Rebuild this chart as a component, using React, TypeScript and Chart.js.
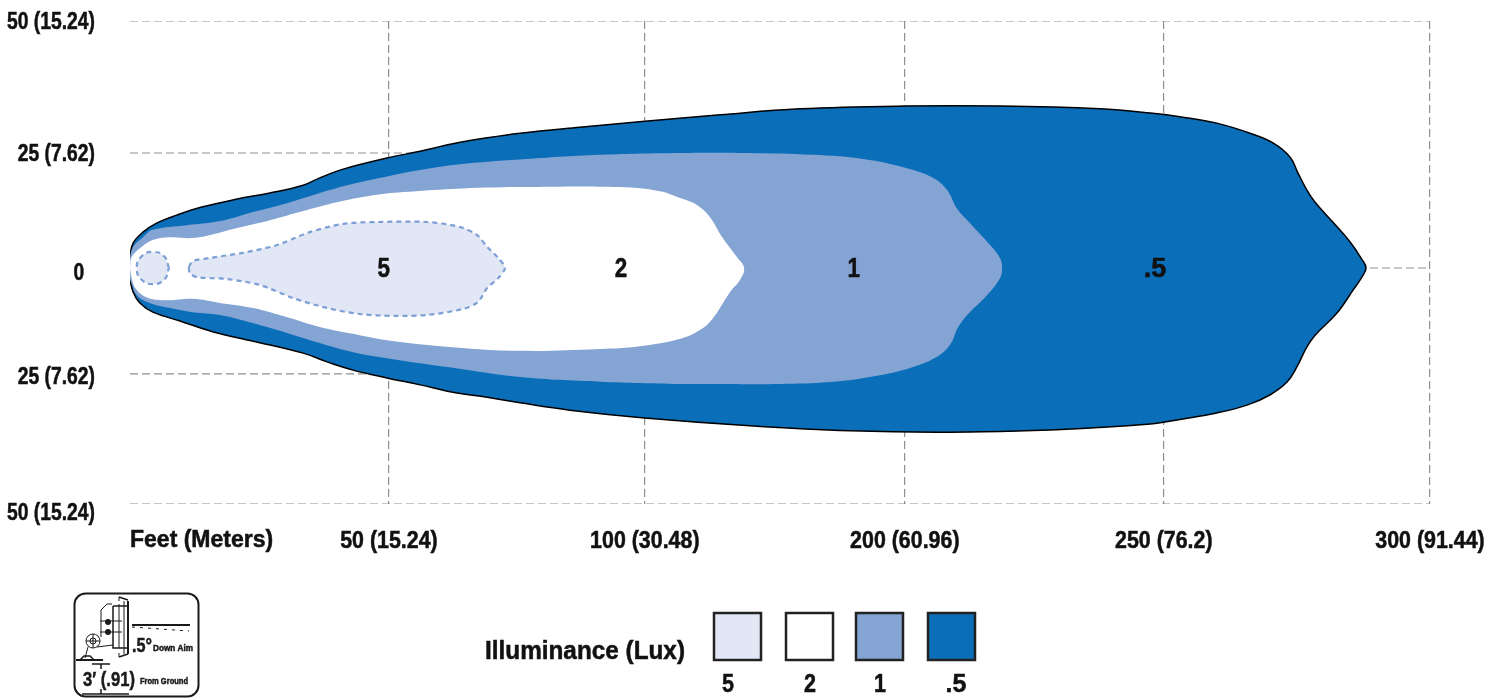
import React, { useEffect, useRef } from "react";
import { Chart, registerables } from "chart.js";

Chart.register(...registerables);

const FONT = '"Liberation Sans", sans-serif';
const INK = "#111111";
const GRID = "#8f8f8f";
const DARK = "#0b6eb8";
const MID = "#84a4d4";
const PALE = "#e1e7f5";
const EDGE = "#7d9fd6";

// Axis units: x in grid units (50 per printed step), y in feet-like units off the beam axis.
const xTickValues = [49.8, 99, 149, 198.8, 250];
const xTickLabels = ["50 (15.24)", "100 (30.48)", "200 (60.96)", "250 (76.2)", "300 (91.44)"];
const yTickValues = [53.4, 24.6, -1.3, -23.9, -53.4];
const yTickLabels = ["50 (15.24)", "25 (7.62)", "0", "25 (7.62)", "50 (15.24)"];
const xAxisTitle = "Feet (Meters)";

const halfLinesY = [53.7, -51.3];
const quarterLinesY = [25, -23];
const axisLineStart = 220;

const outerX = [0, 0, 0.6, 2.5, 5.2, 9, 14, 20.6, 26.9, 33.3, 36.5, 41, 49.4, 55.8, 62.1, 68.7, 75, 86.5, 99, 113.5, 128.8, 149, 167.3, 186.5, 196.2, 202.5, 209, 215.4, 219.8, 223.1, 224.6, 226.3, 227.9, 231.3, 234.6, 236.9, 237.7, 236.9, 235.2, 232.1, 227.9, 226.3, 224.4, 222.5, 219.2, 214.8, 209, 202.5, 196.2, 176.9, 157.7, 138.5, 119.2, 99, 84.6, 75, 68.7, 62.1, 55.8, 49.4, 42.9, 37.9, 33.3, 23.7, 16, 9.6, 4.4, 1.9, 0.6, 0, 0];
const outerY = [0, 2.2, 5.4, 7.8, 9.8, 11.5, 13.3, 15, 16.3, 18, 19.6, 21.5, 23.9, 25.4, 27, 28.3, 29.3, 30.6, 31.9, 33.3, 34.6, 35.2, 35.2, 34.6, 33.7, 32.8, 31.5, 29.3, 27.2, 24.1, 20.7, 17, 14.3, 10, 5.7, 1.9, 0, -2, -4.8, -9.8, -14.6, -17.2, -21.5, -24.8, -27.6, -29.8, -31.5, -32.8, -33.9, -35.2, -35.7, -35.4, -34.3, -32.6, -30.9, -29.3, -28.1, -27, -25.4, -23.9, -22.2, -20.4, -18.5, -15.9, -13.9, -11.5, -9.6, -7.6, -5.2, -2.2, 0];

const oneLuxX = [0, 0, 0.6, 2.5, 4.4, 11, 17.3, 23.7, 30.2, 36.5, 42.9, 49.4, 55.8, 62.1, 68.7, 75, 90.4, 105.8, 118.7, 131.3, 141, 149.4, 154.4, 157.1, 159, 161.5, 165.4, 167.3, 167.7, 167.3, 164.8, 161, 159.2, 157.7, 155.2, 150.6, 144.2, 134.6, 125, 112.1, 105.8, 90.4, 75, 62.1, 49.4, 42.9, 36.5, 30.2, 23.7, 17.3, 12.1, 7.7, 3.8, 1.3, 0.4, 0, 0];
const oneLuxY = [0, 2.2, 4.6, 6.7, 8.3, 9.3, 10.2, 12.2, 14.1, 16.3, 18.3, 19.9, 21.3, 22.4, 23.1, 23.6, 24.6, 25, 25, 24.6, 23.7, 21.7, 19.6, 17, 13, 9.8, 5, 2.2, 0, -2.2, -5.9, -10.2, -13, -16.7, -19.3, -21.5, -23.3, -24.8, -25.2, -25.2, -25.2, -24.7, -23.7, -21.7, -19.6, -18.3, -16.3, -14.1, -12, -10.2, -9.6, -8.7, -7.6, -5.9, -3.7, -2.2, 0];

const twoLuxX = [0, 0.2, 1.9, 4.4, 7.7, 11.9, 14.8, 20.6, 26.9, 33.3, 39.8, 46.2, 52.5, 62.1, 75, 94.2, 101.9, 105.8, 109, 111.5, 114, 116.7, 118.1, 117.3, 115.4, 112.1, 109.6, 105.8, 98.1, 90.4, 75, 62.1, 49.4, 42.9, 36.5, 30.2, 23.7, 17.3, 12.1, 7.1, 3.5, 1.3, 0.4, 0];
const twoLuxY = [0, 2.2, 4.3, 6.1, 6.7, 6.5, 7, 8.7, 10.4, 12.4, 14.3, 15.7, 16.5, 17.2, 17.6, 17.6, 16.7, 15.2, 13.7, 11.1, 6.5, 2.4, 0, -2.6, -5.2, -10.9, -13.5, -15.4, -17, -17.6, -18, -17.2, -15.7, -14.3, -12.8, -10.7, -8.7, -7.6, -6.7, -7, -6.5, -4.8, -2.6, 0];

const fiveLuxX = [11.3, 12.1, 15.4, 21.7, 28.3, 34.6, 41, 47.5, 57.1, 63.5, 66.7, 68.7, 70.8, 72.1, 70.8, 68.7, 66.9, 64, 57.1, 50.6, 44.2, 37.9, 31.3, 25, 18.7, 12.9, 11.5, 11.3];
const fiveLuxY = [0.2, 1.5, 2.2, 3.3, 5, 7.8, 9.6, 10, 10, 8.9, 7.2, 4.6, 2.2, 0, -2.2, -4.3, -7.4, -8.9, -10.2, -10.4, -10, -8.7, -6.5, -3.7, -2.4, -2, -1.1, 0.2];

const hotSpotX = [7.5, 6.6, 4.4, 2.2, 1.3, 2.2, 4.4, 6.6, 7.5];
const hotSpotY = [0, 2.5, 3.5, 2.5, 0, -2.5, -3.5, -2.5, 0];

const zoneLabels = ["5", "2", "1", ".5"];
const zoneLabelX = [48.8, 94.4, 139.2, 197.1];

const legendTitle = "Illuminance (Lux)";
const legendLabels = ["5", "2", "1", ".5"];
const legendColors = [PALE, "#ffffff", MID, DARK];

const zip = (xs: number[], ys: number[]) => xs.map((x, i) => ({ x, y: ys[i] }));

const gridSegment = (a: { x: number; y: number }, b: { x: number; y: number }) => ({
  data: [a, b],
  showLine: true,
  borderColor: GRID,
  borderWidth: 1.2,
  borderDash: [8, 4],
  pointRadius: 0,
  fill: false,
  tension: 0,
});

const contour = (xs: number[], ys: number[], fillColor: string, extra: object = {}) => ({
  data: zip(xs, ys),
  showLine: true,
  backgroundColor: fillColor,
  borderColor: fillColor,
  borderWidth: 0,
  pointRadius: 0,
  fill: "shape",
  tension: 0.4,
  ...extra,
});

// The reference type is a heavy condensed face: narrow Liberation Sans horizontally and thicken it.
const condensedText = {
  id: "condensedText",
  beforeDraw(chart: any) {
    const ctx = chart.ctx;
    if (ctx.__condensed) return;
    ctx.__condensed = true;
    const fill = ctx.fillText.bind(ctx);
    ctx.fillText = (t: string, x: number, y: number, mw?: number) => {
      const w = ctx.measureText(t).width;
      const screenX = ctx.getTransform().e + x;
      const f = mw ? Math.min(1, mw / w) : screenX < 110 ? 0.84 : 0.93;
      ctx.save();
      ctx.translate(x, y);
      ctx.scale(f, 1);
      ctx.lineWidth = 0.5;
      ctx.strokeStyle = ctx.fillStyle;
      ctx.setLineDash([]);
      ctx.strokeText(t, 0, 0);
      fill(t, 0, 0);
      ctx.restore();
    };
  },
};

const annotations = {
  id: "annotations",
  afterDatasetsDraw(chart: any) {
    const { ctx, scales } = chart;
    ctx.save();
    ctx.fillStyle = INK;
    ctx.textAlign = "center";
    ctx.textBaseline = "middle";
    ctx.font = `bold 27px ${FONT}`;
    zoneLabels.forEach((t, i) => ctx.fillText(t, scales.x.getPixelForValue(zoneLabelX[i]), scales.y.getPixelForValue(-0.4), t.length * 12.5));
    ctx.restore();
  },
  afterDraw(chart: any) {
    const { ctx } = chart;
    ctx.save();
    // legend
    ctx.fillStyle = INK;
    ctx.textAlign = "left";
    ctx.textBaseline = "middle";
    ctx.font = `bold 25px ${FONT}`;
    ctx.fillText(legendTitle, 485, 652, 200);
    const swatchX = [714, 786, 856, 928];
    const labelX = [728, 810, 880, 956];
    legendLabels.forEach((t, i) => {
      ctx.fillStyle = legendColors[i];
      ctx.strokeStyle = "#222222";
      ctx.lineWidth = 2.5;
      ctx.fillRect(swatchX[i], 613, 47, 47);
      ctx.strokeRect(swatchX[i], 613, 47, 47);
      ctx.fillStyle = INK;
      ctx.textAlign = "center";
      ctx.fillText(t, labelX[i], 685, t.length * 12);
    });
    // mounting diagram
    ctx.strokeStyle = "#1a1a1a";
    ctx.lineWidth = 2;
    ctx.beginPath();
    ctx.roundRect(74.5, 593.5, 124, 103, 11);
    ctx.stroke();
    const line = (pts: number[][], w = 1) => {
      ctx.lineWidth = w;
      ctx.beginPath();
      pts.forEach((p, i) => (i ? ctx.lineTo(p[0], p[1]) : ctx.moveTo(p[0], p[1])));
      ctx.stroke();
    };
    line([[132, 625], [190, 625]], 2);
    ctx.setLineDash([3, 5]);
    line([[132, 627], [189, 631]], 1);
    ctx.setLineDash([]);
    line([[76, 660], [103, 660]], 2);
    line([[92, 664], [110, 664]], 1.5);
    line([[82, 694], [129, 694]], 1.5);
    line([[101, 664], [101, 669]], 1.5);
    line([[101, 689], [101, 694]], 1.5);
    // lamp
    line([[128, 601], [128, 654]], 2);
    line([[124, 601], [124, 654]], 1);
    line([[119, 604], [119, 648]], 1);
    line([[113, 606], [113, 648], [128, 648]], 1.5);
    line([[113, 606], [128, 606]], 1.5);
    line([[119, 597], [128, 600]], 1.5);
    line([[119, 597], [119, 601]], 1);
    line([[119, 657], [128, 654]], 1.5);
    line([[119, 657], [119, 653]], 1);
    line([[112, 604], [107, 604], [101, 610], [101, 637]], 1);
    line([[100, 621], [122, 621]], 1);
    line([[100, 632], [122, 632]], 1);
    ctx.fillStyle = "#1a1a1a";
    [[108, 622], [108, 632]].forEach(([x, y]) => {
      ctx.beginPath();
      ctx.arc(x, y, 3, 0, Math.PI * 2);
      ctx.fill();
    });
    ctx.lineWidth = 1;
    ctx.beginPath();
    ctx.arc(93, 641, 7, 0, Math.PI * 2);
    ctx.stroke();
    ctx.beginPath();
    ctx.arc(93, 641, 3, 0, Math.PI * 2);
    ctx.stroke();
    line([[86, 641], [100, 641]], 1);
    line([[93, 634], [93, 648]], 1);
    line([[88, 647], [85, 658]], 1);
    line([[97, 647], [113, 645]], 1);
    line([[80, 660], [84, 656], [90, 656], [94, 660]], 1.5);
    ctx.fillStyle = "#1a1a1a";
    ctx.textAlign = "left";
    ctx.font = `bold 21px ${FONT}`;
    ctx.fillText(".5°", 132, 646, 20);
    ctx.fillText("3′ (.91)", 83, 680, 52);
    ctx.font = `bold 9px ${FONT}`;
    ctx.fillText("Down Aim", 153, 649, 40);
    ctx.fillText("From Ground", 140, 682, 48);
    ctx.restore();
  },
};

const noAutoPadding = (s: any) => {
  s.paddingLeft = 0;
  s.paddingRight = 0;
  s.paddingTop = 0;
  s.paddingBottom = 0;
};

export default function App() {
  const ref = useRef<HTMLCanvasElement>(null);
  useEffect(() => {
    const chart = new Chart(ref.current!, {
      type: "scatter",
      data: {
        datasets: [
          contour(hotSpotX, hotSpotY, PALE, { borderColor: EDGE, borderWidth: 2.2, borderDash: [5, 4], tension: 0.5 }),
          contour(fiveLuxX, fiveLuxY, PALE, { borderColor: EDGE, borderWidth: 2.2, borderDash: [5, 4], tension: 0.3 }),
          contour(twoLuxX, twoLuxY, "#ffffff"),
          contour(oneLuxX, oneLuxY, MID),
          contour(outerX, outerY, DARK, { borderColor: "#000000", borderWidth: 1.5 }),
          gridSegment({ x: axisLineStart, y: 0 }, { x: 250, y: 0 }),
          gridSegment({ x: 0, y: quarterLinesY[0] }, { x: 70, y: quarterLinesY[0] }),
          gridSegment({ x: 0, y: quarterLinesY[1] }, { x: 70, y: quarterLinesY[1] }),
          gridSegment({ x: 0, y: halfLinesY[0] }, { x: 250, y: halfLinesY[0] }),
          gridSegment({ x: 0, y: halfLinesY[1] }, { x: 250, y: halfLinesY[1] }),
        ] as any,
      },
      options: {
        animation: false,
        responsive: false,
        events: [],
        layout: { autoPadding: false, padding: { top: 21, right: 73, bottom: 0, left: 0 } },
        plugins: { legend: { display: false }, tooltip: { enabled: false } },
        scales: {
          x: {
            type: "linear",
            min: 0,
            max: 250,
            border: { display: false, dash: [8, 4] },
            afterFit: (s: any) => { s.height = 194; noAutoPadding(s); },
            afterBuildTicks: (s: any) => { s.ticks = xTickValues.map((value) => ({ value })); },
            grid: { color: GRID, lineWidth: 1.2, drawTicks: false },
            ticks: {
              color: INK,
              autoSkip: false,
              maxRotation: 0,
              padding: 24,
              font: { family: FONT, weight: "bold", size: 23 },
              callback: (_v: any, i: number) => xTickLabels[i],
            },
            title: {
              display: true,
              text: xAxisTitle,
              align: "start",
              color: INK,
              font: { family: FONT, weight: "bold", size: 23 },
              padding: { top: 0, bottom: 144 },
            },
          },
          y: {
            type: "linear",
            min: -51.3,
            max: 53.7,
            border: { display: false },
            afterFit: (s: any) => { s.width = 130; noAutoPadding(s); },
            afterBuildTicks: (s: any) => { s.ticks = yTickValues.map((value) => ({ value })); },
            grid: { display: false, drawTicks: false },
            ticks: {
              color: INK,
              padding: 35,
              autoSkip: false,
              font: { family: FONT, weight: "bold", size: 23 },
              callback: (_v: any, i: number) => (yTickLabels[i] === "0" ? "0  " : yTickLabels[i]),
            },
          },
        },
      } as any,
      plugins: [condensedText, annotations],
    });
    return () => chart.destroy();
  }, []);
  return (
    <div style={{ position: "absolute", left: 0, top: 0, background: "#ffffff" }}>
      <canvas ref={ref} width={1503} height={698} style={{ display: "block" }} />
    </div>
  );
}
